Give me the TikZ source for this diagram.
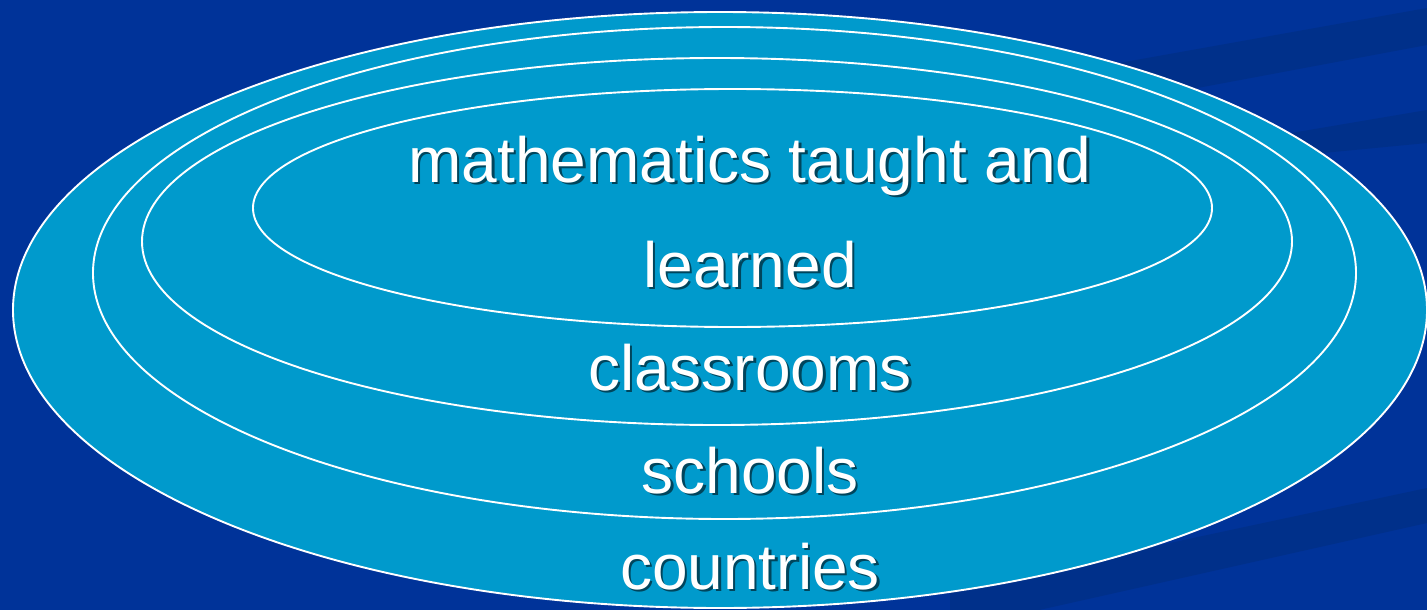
\documentclass[tikz,border=0pt]{standalone}
\usepackage{fontspec}
\setmainfont{Liberation Sans}
\definecolor{slidebg}{HTML}{003399}
\definecolor{slideband}{HTML}{00308A}
\definecolor{ringfill}{HTML}{009ACC}
\tikzset{
  ring/.style={fill=ringfill, draw=white, line width=1.9pt},
  band/.style={fill=slideband},
  label/.style={text=white, anchor=base, inner sep=0pt,
    font=\fontsize{64}{76}\selectfont},
  labelshadow/.style={label, text=black, opacity=0.55},
}
\newcommand{\shadowlabel}[3]{%
  \node[labelshadow] (#1s) at (752.5,#2+2.5) {#3};
  \node[label] (#1) at (750,#2) {#3};}
\begin{document}
\begin{tikzpicture}[x=1pt,y=-1pt]
  \useasboundingbox (0,0) rectangle (1427,610);
  \clip (0,0) rectangle (1427,610);
  % background and faint diagonal bands
  \fill[slidebg] (0,0) rectangle (1427,610);
  \fill[band] (1080,110) -- (1427,45) -- (1427,8) -- (1080,70) -- cycle;
  \fill[band] (1250,160) -- (1427,143) -- (1427,110) -- (1250,140) -- cycle;
  \fill[band] (950,630) -- (1427,523) -- (1427,488) -- (950,590) -- cycle;
  % nested rings, outermost first
  \draw[ring] (720,310) ellipse [x radius=707, y radius=298];
  \draw[ring] (724.5,273) ellipse [x radius=631.5, y radius=246];
  \draw[ring] (717,241.5) ellipse [x radius=575, y radius=183.5];
  \draw[ring] (732.5,208) ellipse [x radius=479.5, y radius=119];
  % labels
  \shadowlabel{math}{182}{mathematics taught and}
  \shadowlabel{learned}{287}{learned}
  \shadowlabel{classrooms}{390}{classrooms}
  \shadowlabel{schools}{493}{schools}
  \shadowlabel{countries}{589}{countries}
\end{tikzpicture}
\end{document}
